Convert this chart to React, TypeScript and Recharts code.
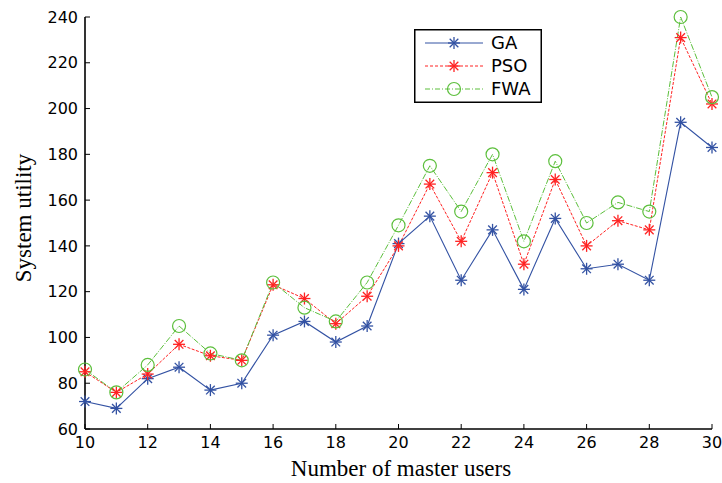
import React from "react";
import { LineChart, Line, XAxis, YAxis, Legend } from "recharts";

const users = [10, 11, 12, 13, 14, 15, 16, 17, 18, 19, 20, 21, 22, 23, 24, 25, 26, 27, 28, 29, 30];
const gaValues = [72, 69, 82, 87, 77, 80, 101, 107, 98, 105, 141, 153, 125, 147, 121, 152, 130, 132, 125, 194, 183];
const psoValues = [85, 76, 84, 97, 92, 90, 123, 117, 106, 118, 140, 167, 142, 172, 132, 169, 140, 151, 147, 231, 202];
const fwaValues = [86, 76, 88, 105, 93, 90, 124, 113, 107, 124, 149, 175, 155, 180, 142, 177, 150, 159, 155, 240, 205];
const xTicks = [10, 12, 14, 16, 18, 20, 22, 24, 26, 28, 30];
const yTicks = [60, 80, 100, 120, 140, 160, 180, 200, 220, 240];

const BLUE = "#3352a3";
const RED = "#ff2222";
const GREEN = "#5cbf3c";

const SANS = "'DejaVu Sans', Arial, sans-serif";
const SERIF = "'Liberation Serif', 'Times New Roman', serif";

const data = users.map((n, i) => ({ n, ga: gaValues[i], pso: psoValues[i], fwa: fwaValues[i] }));

function Asterisk({ cx, cy, color, r = 6 }: { cx: number; cy: number; color: string; r?: number }) {
  const d = r * 0.72;
  return (
    <g stroke={color} strokeWidth={1.3} fill="none">
      <line x1={cx - r} y1={cy} x2={cx + r} y2={cy} />
      <line x1={cx} y1={cy - r} x2={cx} y2={cy + r} />
      <line x1={cx - d} y1={cy - d} x2={cx + d} y2={cy + d} />
      <line x1={cx - d} y1={cy + d} x2={cx + d} y2={cy - d} />
    </g>
  );
}

const starDot = (color: string) => (props: any) => {
  const { cx, cy, index } = props;
  if (cx == null || cy == null) return <g key={`s-${index}`} />;
  return <Asterisk key={`s-${color}-${index}`} cx={cx} cy={cy} color={color} />;
};

const circleDot = (props: any) => {
  const { cx, cy, index } = props;
  if (cx == null || cy == null) return <g key={`c-${index}`} />;
  return <circle key={`c-${index}`} cx={cx} cy={cy} r={6.5} fill="none" stroke={GREEN} strokeWidth={1.2} />;
};

const legendItems = [
  { name: "GA", color: BLUE, dash: undefined, marker: "star" },
  { name: "PSO", color: RED, dash: "3 2", marker: "star" },
  { name: "FWA", color: GREEN, dash: "5 2 1 2", marker: "circle" },
];

function LegendBox() {
  return (
    <svg width={128} height={74} style={{ display: "block" }}>
      <rect x={0.75} y={0.75} width={126.5} height={72.5} fill="#fff" stroke="#000" strokeWidth={1.5} />
      {legendItems.map((it, i) => {
        const y = 14 + i * 23;
        return (
          <g key={it.name}>
            <line x1={11} y1={y} x2={69} y2={y} stroke={it.color} strokeWidth={1} strokeDasharray={it.dash} />
            {it.marker === "star" ? (
              <Asterisk cx={40} cy={y} color={it.color} />
            ) : (
              <circle cx={40} cy={y} r={6.5} fill="none" stroke={it.color} strokeWidth={1.2} />
            )}
            <text x={77} y={y} dy="0.36em" fontSize={18} fontFamily={SANS} fill="#000">
              {it.name}
            </text>
          </g>
        );
      })}
    </svg>
  );
}

const tickStyle = { fontSize: 16, fill: "#000", fontFamily: SANS };
const axisStroke = { stroke: "#000", strokeWidth: 1.6 };

export default function App() {
  return (
    <div style={{ position: "absolute", left: 0, top: 0, width: 722, height: 483, background: "#fff" }}>
      <LineChart width={722} height={483} data={data} margin={{ top: 17, right: 10, bottom: 24, left: 25 }}>
        <XAxis
          dataKey="n"
          type="number"
          domain={[10, 30]}
          ticks={xTicks}
          interval={0}
          tickSize={-5}
          tickMargin={13}
          height={30}
          tick={tickStyle}
          axisLine={axisStroke}
          tickLine={{ stroke: "#000" }}
          label={() => (
            <text x={401} y={468} dy="0.35em" textAnchor="middle" fontSize={23} fontFamily={SERIF} fill="#000">
              Number of master users
            </text>
          )}
        />
        <XAxis
          xAxisId="top"
          dataKey="n"
          type="number"
          orientation="top"
          domain={[10, 30]}
          ticks={xTicks}
          interval={0}
          tickSize={-5}
          height={0}
          tick={false}
          axisLine={axisStroke}
          tickLine={{ stroke: "#000" }}
        />
        <YAxis
          type="number"
          domain={[60, 240]}
          ticks={yTicks}
          interval={0}
          tickSize={-5}
          tickMargin={12}
          width={60}
          tick={tickStyle}
          axisLine={axisStroke}
          tickLine={{ stroke: "#000" }}
          label={() => (
            <text x={23} y={218} dy="0.35em" textAnchor="middle" transform="rotate(-90 23 218)" fontSize={23} fontFamily={SERIF} fill="#000">
              System utility
            </text>
          )}
        />
        <YAxis
          yAxisId="right"
          orientation="right"
          type="number"
          domain={[60, 240]}
          ticks={yTicks}
          interval={0}
          tickSize={-5}
          width={0}
          tick={false}
          axisLine={axisStroke}
          tickLine={{ stroke: "#000" }}
        />
        <Legend
          layout="vertical"
          align="center"
          verticalAlign="middle"
          content={() => <LegendBox />}
          wrapperStyle={{ left: 414, top: 29, width: 128, height: 74 }}
        />
        <Line
          dataKey="ga"
          name="GA"
          stroke={BLUE}
          strokeWidth={1.1}
          dot={starDot(BLUE)}
          activeDot={false}
          isAnimationActive={false}
        />
        <Line
          dataKey="pso"
          name="PSO"
          stroke={RED}
          strokeWidth={1}
          strokeDasharray="3 1.5"
          dot={starDot(RED)}
          activeDot={false}
          isAnimationActive={false}
        />
        <Line
          dataKey="fwa"
          name="FWA"
          stroke={GREEN}
          strokeWidth={1}
          strokeDasharray="6 1.5 1 1.5"
          dot={circleDot}
          activeDot={false}
          isAnimationActive={false}
        />
      </LineChart>
    </div>
  );
}
